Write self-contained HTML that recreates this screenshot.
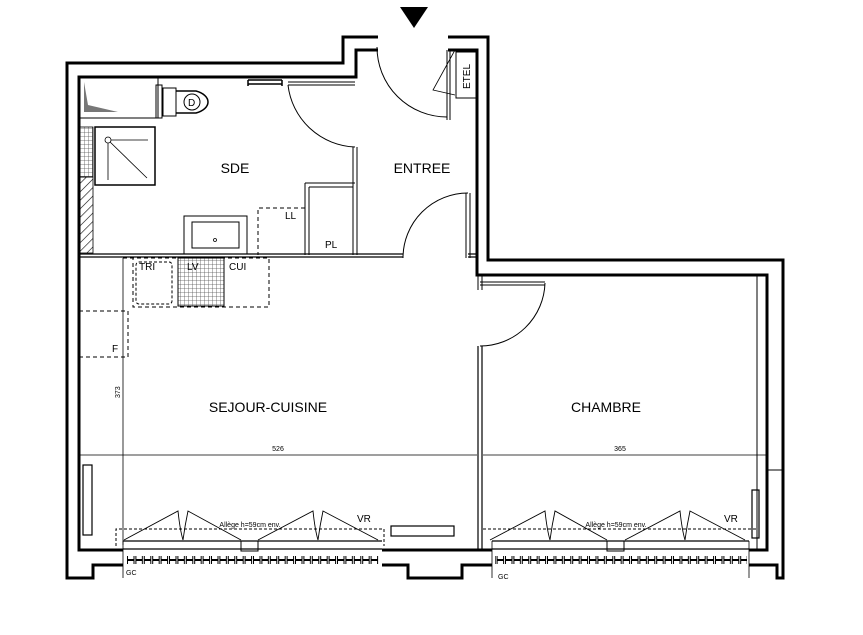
<!DOCTYPE html>
<html><head><meta charset="utf-8"><style>
html,body{margin:0;padding:0;background:#fff;}
svg{display:block;}
text{font-family:"Liberation Sans",sans-serif;fill:#000;}
</style></head><body>
<svg width="863" height="635" viewBox="0 0 863 635" xmlns="http://www.w3.org/2000/svg">
<defs>
<pattern id="tick" x="127" width="8.4" height="8" patternUnits="userSpaceOnUse"><rect x="0.5" y="0.5" width="6.5" height="7" fill="#fff" stroke="#000" stroke-width="1"/></pattern>
<pattern id="hatch" width="6" height="6" patternUnits="userSpaceOnUse" patternTransform="rotate(45)"><line x1="0" y1="0" x2="0" y2="6" stroke="#000" stroke-width="1.2"/></pattern>
<pattern id="grid" width="4" height="4" patternUnits="userSpaceOnUse"><path d="M0 0H4M0 0V4" stroke="#555" stroke-width="0.8" fill="none"/></pattern>
</defs>
<polygon points="400,7 428,7 414,28" fill="#000"/>
<g fill="none" stroke="#000">
<path d="M378,37 H343 V63 H67 V578 H93 V565 H123" stroke-width="3"/>
<path d="M382,565 H408 V578 H462 V565 H492" stroke-width="3"/>
<path d="M749,565 H777 V578 H783 V260 H488 V37 H448" stroke-width="3"/>
<path d="M378,50 H356 V77 H79 V550 H123" stroke-width="3"/>
<path d="M382,550 H492" stroke-width="3"/>
<path d="M749,550 H767 V275 H477 V50 H448" stroke-width="3"/>
<path d="M757,275 V550" stroke-width="1"/>
<path d="M767,470 H783" stroke-width="1"/>
<path d="M248,80 H282 M248,84 H282 M248,80 V86 M282,80 V86" stroke-width="1.5"/>
<path d="M288,82 H355 M288,85 H355" stroke-width="1"/>
<path d="M79,254 H403 M79,257 H403 M468,254 H477 M468,257 H477" stroke-width="1.2"/>
<path d="M353,147 V255 M357,147 V255 M305,183 H355 M305,183 V255 M309,187 V255 M309,187 H353" stroke-width="1"/>
<path d="M377,47 A70,70 0 0 0 447,117" stroke-width="1"/>
<path d="M447,50 V120 M450,50 V120" stroke-width="1"/>
<rect x="456" y="52" width="20" height="46" stroke-width="1"/>
<path d="M455,50 L433,90 L455,95" stroke-width="0.8"/>
<path d="M288,85 A70,70 0 0 0 355,147" stroke-width="1"/>
<path d="M403,258 A65,65 0 0 1 468,193" stroke-width="1"/>
<path d="M466,193 V258 M470,193 V258" stroke-width="1"/>
<path d="M480,282 H545 M480,285 H545" stroke-width="1"/>
<path d="M545,283 A65,65 0 0 1 480,346" stroke-width="1"/>
<path d="M478,346 V550 M482,346 V550" stroke-width="1.2"/>
<path d="M478,275 V290 M482,275 V290" stroke-width="1"/>
<rect x="80" y="78" width="78" height="40" stroke-width="1"/>
<polygon points="84,82 88,105 118,112 84,112" fill="#777" stroke="none"/>
<rect x="156" y="85" width="6" height="33" stroke-width="1"/>
<path d="M163,88 H176 V116 H163 Z" stroke-width="1"/>
<path d="M176,91 H196 A20,12 0 0 1 196,113 H176" stroke-width="1.5"/>
<ellipse cx="192" cy="102" rx="8" ry="8" stroke-width="1"/>
<text x="188" y="106" font-size="10" stroke="none">D</text>
<rect x="95" y="127" width="60" height="58" stroke-width="1.5"/>
<path d="M108,140 L147,178 M108,140 H148 M108,140 V180" stroke-width="0.8"/>
<circle cx="108" cy="140" r="3" fill="#fff" stroke-width="0.8"/>
<rect x="80" y="127" width="13" height="50" fill="url(#grid)" stroke-width="0.8"/>
<rect x="80" y="177" width="13" height="76" fill="url(#hatch)" stroke-width="0.8"/>
<rect x="184" y="216" width="63" height="38" stroke-width="1"/>
<rect x="192" y="222" width="47" height="26" stroke-width="1"/>
<circle cx="215" cy="240" r="1.5" stroke-width="0.8"/>
<path d="M305,208 H258 V255" stroke-dasharray="4,3" stroke-width="1"/>
<path d="M123,258 H269 V307 H133 V258" stroke-dasharray="4,3" stroke-width="1"/>
<rect x="136" y="262" width="36" height="42" rx="3" stroke-dasharray="3,2" stroke-width="1"/>
<rect x="178" y="258" width="46" height="48" fill="url(#grid)" stroke-width="1"/>
<path d="M79,311 H128 V357 H79" stroke-dasharray="4,3" stroke-width="1"/>
<path d="M123,258 V545" stroke-width="0.8"/>
<path d="M79,455 H477 M483,455 H767" stroke-width="0.8"/>
<rect x="83" y="465" width="9" height="70" stroke-width="1.2"/>
<rect x="752" y="490" width="7" height="48" stroke-width="1.2"/>
<rect x="391" y="526" width="63" height="10" stroke-width="1.2"/>
<path d="M116,546 V529 H384 V546" stroke-dasharray="3,2" stroke-width="1"/>
<path d="M483,529 H758" stroke-dasharray="3,2" stroke-width="1"/>
<g stroke-width="0.9">
<path d="M124,540 L178,511 Q180,530 183,540 Q185,525 188,511 L241,540"/>
<path d="M258,540 L313,511 Q315,530 318,540 Q320,525 323,511 L378,540"/>
<path d="M490,540 L545,511 Q547,530 550,540 Q552,525 555,511 L607,540"/>
<path d="M625,540 L680,511 Q682,530 685,540 Q687,525 690,511 L745,540"/>
</g>
<path d="M123,541 H382 M123,549 H382 M492,541 H749 M492,549 H749" stroke-width="1.2"/>
<rect x="241" y="541" width="17" height="10" stroke-width="1"/>
<rect x="607" y="541" width="17" height="10" stroke-width="1"/>
<path d="M123,541 V578 M492,541 V578 M749,541 V578" stroke-width="0.8"/>
</g>
<rect x="127" y="556" width="252" height="8" fill="url(#tick)"/>
<rect x="495" y="556" width="252" height="8" fill="url(#tick)"/>
<text x="235" y="173" font-size="14" text-anchor="middle">SDE</text>
<text x="422" y="173" font-size="14" text-anchor="middle">ENTREE</text>
<text x="268" y="412" font-size="14" text-anchor="middle">SEJOUR-CUISINE</text>
<text x="606" y="412" font-size="14" text-anchor="middle">CHAMBRE</text>
<text x="470" y="89" font-size="10" transform="rotate(-90 470 89)">ETEL</text>
<text x="285" y="219" font-size="10">LL</text>
<text x="325" y="248" font-size="10">PL</text>
<text x="139" y="270" font-size="10">TRI</text>
<text x="187" y="270" font-size="10">LV</text>
<text x="229" y="270" font-size="10">CUI</text>
<text x="112" y="352" font-size="10">F</text>
<text x="278" y="451" font-size="7" text-anchor="middle" font-family="Liberation Serif">526</text>
<text x="620" y="451" font-size="7" text-anchor="middle" font-family="Liberation Serif">365</text>
<text x="120" y="398" font-size="7" font-family="Liberation Serif" transform="rotate(-90 120 398)">373</text>
<text x="357" y="522" font-size="10">VR</text>
<text x="724" y="522" font-size="10">VR</text>
<text x="250" y="527" font-size="7" text-anchor="middle">Allège h=59cm env.</text>
<text x="616" y="527" font-size="7" text-anchor="middle">Allège h=59cm env.</text>
<text x="126" y="575" font-size="7">GC</text>
<text x="498" y="579" font-size="7">GC</text>
</svg>
</body></html>
